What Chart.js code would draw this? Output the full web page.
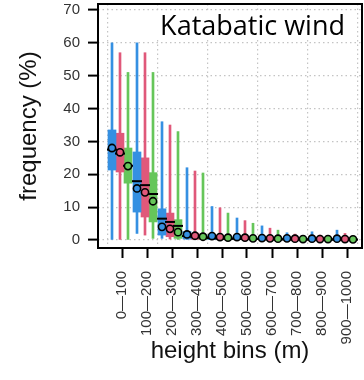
<!DOCTYPE html>
<html>
<head>
<meta charset="utf-8">
<script src="https://cdn.jsdelivr.net/npm/chart.js@4.4.1/dist/chart.umd.min.js"></script>
<style>
  html, body { margin: 0; padding: 0; background: #fff; }
  canvas { display: block; }
</style>
</head>
<body>
<canvas id="chart" width="364" height="380"></canvas>
<script>
const titleText = "Katabatic wind";
const bins = ["0—100", "100—200", "200—300", "300—400", "400—500",
  "500—600", "600—700", "700—800", "800—900", "900—1000"];
const seriesNames = ["series 1", "series 2", "series 3"];
const yTicks = [0, 10, 20, 30, 40, 50, 60, 70];

// one row per series (blue, red, green), one value per height bin
const whiskerLow = [
  [0, 2.0, 0.5, 0, 0, 0, 0, 0, 0, 0],
  [0, 1.5, 0.3, 0, 0, 0, 0, 0, 0, 0],
  [0, 0.5, 0, 0, 0, 0, 0, 0, 0, 0],
];
const whiskerHigh = [
  [60, 60, 36, 22, 10.2, 6.7, 4.3, 2.2, 2.5, 3.0],
  [57, 57, 35, 21, 9.8, 5.9, 3.6, 1.8, 1.5, 2.0],
  [51, 51, 33, 20.4, 8.2, 5.1, 3.0, 1.4, 1.0, 1.2],
];
const boxLow = [
  [21.3, 8.5, 1.5, 0.3, 0.1, 0, 0, 0, 0, 0],
  [20.7, 7.0, 1.0, 0.2, 0.1, 0, 0, 0, 0, 0],
  [17.3, 5.5, 0.5, 0.1, 0, 0, 0, 0, 0, 0],
];
const boxHigh = [
  [33.5, 26.8, 9.5, 2.6, 1.5, 1.0, 0.7, 0.5, 0.4, 0.4],
  [32.5, 25.0, 8.2, 2.1, 1.2, 0.8, 0.6, 0.4, 0.3, 0.3],
  [28.0, 20.5, 6.2, 1.6, 0.9, 0.6, 0.5, 0.3, 0.3, 0.3],
];
const medians = [
  [27.5, 17.9, 6.5, 1.2, 0.6, 0.4, 0.3, 0.2, 0.2, 0.2],
  [26.3, 16.7, 5.5, 1.0, 0.5, 0.3, 0.2, 0.2, 0.1, 0.1],
  [22.6, 14.0, 4.3, 0.8, 0.4, 0.3, 0.2, 0.1, 0.1, 0.1],
];
const means = [
  [28.0, 15.7, 4.0, 1.7, 1.2, 0.9, 0.6, 0.5, 0.4, 0.4],
  [26.7, 14.5, 3.4, 1.3, 0.9, 0.7, 0.5, 0.4, 0.3, 0.3],
  [22.5, 11.8, 2.4, 1.0, 0.7, 0.5, 0.4, 0.3, 0.3, 0.2],
];

const colors = ["#3590e2", "#e0587a", "#66c65a"];
const shift = -0.08;
const offsets = [-0.32, 0, 0.32];
const xOf = (s, i) => i + 1 + shift + offsets[s];

Chart.defaults.font.family = "'Liberation Sans', Arial, sans-serif";

const datasets = [];
colors.forEach((color, s) => {
  datasets.push({
    type: "bar",
    label: seriesNames[s] + " range",
    data: bins.map((_, i) => ({ x: xOf(s, i), y: [whiskerLow[s][i], whiskerHigh[s][i]] })),
    backgroundColor: color,
    barThickness: 2,
    grouped: false,
    order: 4,
  });
  datasets.push({
    type: "bar",
    label: seriesNames[s] + " box",
    data: bins.map((_, i) => ({ x: xOf(s, i), y: [boxLow[s][i], boxHigh[s][i]] })),
    backgroundColor: color,
    barThickness: 8,
    grouped: false,
    order: 3,
  });
  datasets.push({
    type: "scatter",
    label: seriesNames[s] + " median",
    data: bins.map((_, i) => ({ x: xOf(s, i), y: medians[s][i] })),
    pointStyle: "line",
    pointRadius: 5,
    pointBorderWidth: 2,
    pointBorderColor: "#000",
    order: 2,
  });
  datasets.push({
    type: "scatter",
    label: seriesNames[s] + " mean",
    data: bins.map((_, i) => ({ x: xOf(s, i), y: means[s][i] })),
    pointRadius: 3.6,
    pointBorderWidth: 1.6,
    pointBorderColor: "#000",
    pointBackgroundColor: color,
    order: 1,
  });
});

const framePlugin = {
  id: "frame",
  beforeDatasetsDraw(chart) {
    const { ctx, chartArea: a } = chart;
    ctx.save();
    ctx.font = "27px 'Open Sans'";
    const w = ctx.measureText(titleText).width;
    const x = a.right - 17 - w;
    ctx.fillStyle = "#fff";
    ctx.fillRect(x - 4, a.top + 8, w + 8, 28);
    ctx.fillStyle = "#000";
    ctx.textBaseline = "alphabetic";
    ctx.fillText(titleText, x, a.top + 31);
    ctx.restore();
  },
  afterDraw(chart) {
    const { ctx, chartArea: a } = chart;
    ctx.save();
    ctx.strokeStyle = "#000";
    ctx.lineWidth = 2;
    ctx.strokeRect(a.left, a.top, a.right - a.left, a.bottom - a.top);
    ctx.restore();
  },
};

new Chart(document.getElementById("chart"), {
  type: "bar",
  data: { datasets },
  plugins: [framePlugin],
  options: {
    responsive: false,
    animation: false,
    layout: { autoPadding: false, padding: { top: 4, right: 2, left: 0, bottom: 0 } },
    plugins: {
      legend: { display: false },
      tooltip: { enabled: false },
    },
    scales: {
      x: {
        type: "linear",
        position: "bottom",
        min: 0.04,
        max: 10.6,
        offset: false,
        afterBuildTicks: (axis) => {
          axis.ticks = bins.map((_, i) => ({ value: i + 1 }));
        },
        afterFit: (axis) => {
          axis.height = 132;
          axis.paddingLeft = 0;
          axis.paddingRight = 0;
        },
        grid: {
          offset: false,
          drawOnChartArea: false,
          drawTicks: true,
          tickLength: 10,
          tickColor: "#000",
          tickWidth: 2,
        },
        border: { display: false },
        ticks: {
          autoSkip: false,
          minRotation: 90,
          maxRotation: 90,
          padding: 13,
          color: "#333",
          font: { size: 15 },
          callback: (value) => bins[Math.round(value) - 1],
        },
        title: {
          display: true,
          text: "height bins (m)",
          color: "#111",
          font: { size: 24 },
          padding: { top: 0, bottom: 14 },
        },
      },
      xg: {
        type: "linear",
        position: "top",
        min: 0.04,
        max: 10.6,
        offset: false,
        afterBuildTicks: (axis) => {
          axis.ticks = [0.5, 2.5, 4.5, 6.5, 8.5, 10.5].map((v) => ({ value: v + shift }));
        },
        afterFit: (axis) => {
          axis.height = 0;
          axis.paddingLeft = 0;
          axis.paddingRight = 0;
        },
        grid: {
          offset: false,
          drawTicks: false,
          color: "#c4c4c4",
          lineWidth: 1.2,
        },
        border: { display: false, dash: [1.5, 3] },
        ticks: { display: false },
      },
      y: {
        type: "linear",
        min: -2.43,
        max: 71.83,
        afterBuildTicks: (axis) => {
          axis.ticks = yTicks.map((v) => ({ value: v }));
        },
        afterFit: (axis) => {
          axis.width = 98;
          axis.paddingTop = 0;
          axis.paddingBottom = 0;
        },
        grid: {
          color: "#c4c4c4",
          lineWidth: 1.2,
          drawTicks: true,
          tickLength: 10,
          tickColor: "#000",
          tickWidth: 2,
          tickBorderDash: [],
        },
        border: { display: false, dash: [1.5, 3] },
        ticks: {
          padding: 8,
          color: "#333",
          font: { size: 15 },
        },
        title: {
          display: true,
          text: "frequency (%)",
          color: "#111",
          font: { size: 24 },
          padding: { top: 15, bottom: 0 },
        },
      },
    },
  },
});
</script>
</body>
</html>
